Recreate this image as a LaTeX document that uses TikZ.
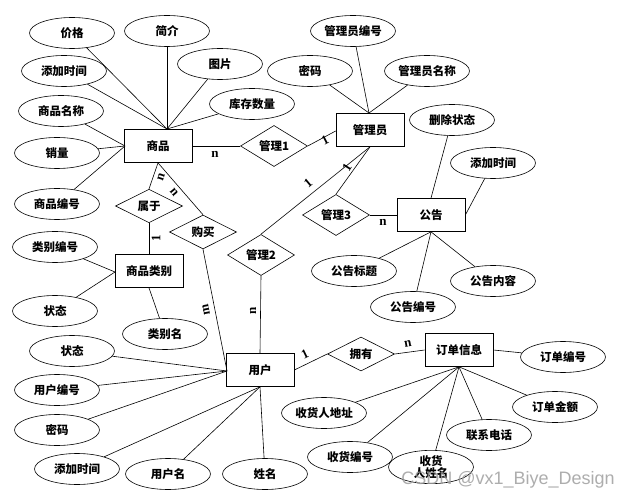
\documentclass[tikz,border=0pt]{standalone}
\usepackage{fontspec}
\setmainfont{Noto Sans CJK SC}
\newfontfamily\labfont{Liberation Serif}
\newfontfamily\wmfont{Liberation Sans}
\usetikzlibrary{shapes.geometric}
\begin{document}
\begin{tikzpicture}[x=1pt,y=-1pt,
  txt/.style={font=\fontsize{11.5}{12}\selectfont\bfseries},
  attr/.style={ellipse,draw,line width=0.6pt,minimum width=85pt,minimum height=31pt,inner sep=0pt,txt},
  ent/.style={rectangle,draw,line width=0.7pt,minimum width=68pt,minimum height=33pt,inner sep=0pt,txt},
  rel/.style={diamond,draw,line width=0.6pt,minimum width=67pt,minimum height=33pt,inner sep=0pt,txt},
  card/.style={font=\labfont\bfseries\fontsize{13}{13}\selectfont,inner sep=0pt},
  conn/.style={line width=0.6pt}]
\useasboundingbox (0,0) rectangle (635,497);
\fill[white] (0,0) rectangle (635,497);

% entities
\node[ent] (goods) at (158,146) {商品};
\node[ent] (admin) at (370,130) {管理员};
\node[ent] (notice) at (431,215) {公告};
\node[ent] (cat) at (149,271) {商品类别};
\node[ent] (user) at (260,370) {用户};
\node[ent] (order) at (459,350) {订单信息};

% relationships
\node[rel] (m1) at (274,146) {管理1};
\node[rel] (belong) at (149,206) {属于};
\node[rel] (buy) at (203,232) {购买};
\node[rel] (m2) at (261,255) {管理2};
\node[rel] (m3) at (336,215) {管理3};
\node[rel] (own) at (361,354) {拥有};

% attributes of goods
\node[attr] (g1) at (72,33) {价格};
\node[attr] (g2) at (167,31) {简介};
\node[attr] (g3) at (220,64) {图片};
\node[attr] (g4) at (252,104) {库存数量};
\node[attr] (g5) at (64,71) {添加时间};
\node[attr] (g6) at (61,111) {商品名称};
\node[attr] (g7) at (57,153) {销量};
\node[attr] (g8) at (57,204) {商品编号};
\coordinate (gtop) at (167,129);
\coordinate (gleft) at (125,146);
\foreach \a in {g1,g2,g3,g4,g5} \draw[conn] (\a) -- (gtop);
\foreach \a in {g6,g7,g8} \draw[conn] (\a) -- (gleft);

% attributes of admin
\node[attr] (a1) at (353,31) {管理员编号};
\node[attr] (a2) at (310,71) {密码};
\node[attr] (a3) at (427,71) {管理员名称};
\coordinate (atop) at (369,113);
\foreach \a in {a1,a2,a3} \draw[conn] (\a) -- (atop);

% attributes of notice
\node[attr] (n1) at (452,120) {删除状态};
\node[attr] (n2) at (493,163) {添加时间};
\node[attr] (n3) at (354,271) {公告标题};
\node[attr] (n4) at (493,281) {公告内容};
\node[attr] (n5) at (413,307) {公告编号};
\draw[conn] (n1) -- (notice.north);
\draw[conn] (n2) -- (notice.east);
\foreach \a in {n3,n4,n5} \draw[conn] (\a) -- (notice.south);

% attributes of category
\node[attr] (c1) at (55,247) {类别编号};
\node[attr] (c2) at (55,311) {状态};
\node[attr] (c3) at (165,334) {类别名};
\coordinate (cleft) at (115,272);
\draw[conn] (c1) -- (cleft);
\draw[conn] (c2) -- (cleft);
\draw[conn] (c3) -- (cat.south);

% attributes of user
\node[attr] (u1) at (72,351) {状态};
\node[attr] (u2) at (57,390) {用户编号};
\node[attr] (u3) at (57,430) {密码};
\node[attr] (u4) at (77,469) {添加时间};
\node[attr] (u5) at (168,474) {用户名};
\node[attr] (u6) at (265,474) {姓名};
\coordinate (uleft) at (227,371);
\foreach \a in {u1,u2,u3} \draw[conn] (\a) -- (uleft);
\foreach \a in {u4,u5,u6} \draw[conn] (\a) -- (user.south);

% attributes of order
\node[attr] (o1) at (563,357) {订单编号};
\node[attr] (o2) at (555,407) {订单金额};
\node[attr] (o3) at (489,435) {联系电话};
\node[attr] (o4) at (324,413) {收货人地址};
\node[attr] (o5) at (350,457) {收货编号};
\node[attr,align=center,font=\fontsize{11.5}{12.5}\selectfont\bfseries] (o6) at (431,467) {收货\\人姓名};
\draw[conn] (o1) -- (order.east);
\foreach \a in {o2,o3,o4,o5,o6} \draw[conn] (\a) -- (order.south);

% relationship connectors
\draw[conn] (goods.east) -- (m1.west);
\draw[conn] (m1.east) -- (admin.south west|-0,131);
\draw[conn] (goods.south) -- (belong.north);
\draw[conn] (belong.south) -- (cat.north);
\draw[conn] (goods.south) -- (buy.north);
\draw[conn] (buy.south) -- (uleft);
\draw[conn] (m2.north) -- (admin.south);
\draw[conn] (m2.south) -- (user.north);
\draw[conn] (m3.north) -- (admin.south);
\draw[conn] (m3.east) -- (notice.west);
\draw[conn] (user.east) -- (own.west);
\draw[conn] (own.east) -- (order.west);

% cardinalities
\node[card] (k1) at (215,154) {n};
\node[card,rotate=27] (k2) at (325,140) {1};
\node[card,rotate=72] (k3) at (161,177) {n};
\node[card,rotate=90] (k4) at (156,238) {1};
\node[card,rotate=-50] (k5) at (174,192) {n};
\node[card,rotate=101] (k6) at (206,310) {m};
\node[card,rotate=90] (k7) at (253,311) {n};
\node[card,rotate=40] (k8) at (308,183) {1};
\node[card,rotate=58] (k9) at (347,167) {1};
\node[card] (k10) at (383,222) {n};
\node[card,rotate=26] (k11) at (305,354) {1};
\node[card,rotate=10] (k12) at (408,344) {n};

% watermark
\node[font=\wmfont\fontsize{18}{18}\selectfont,text=black!40,opacity=0.8,inner sep=0pt] (wm) at (508,480) {CSDN @vx1\_Biye\_Design};
\end{tikzpicture}
\end{document}
